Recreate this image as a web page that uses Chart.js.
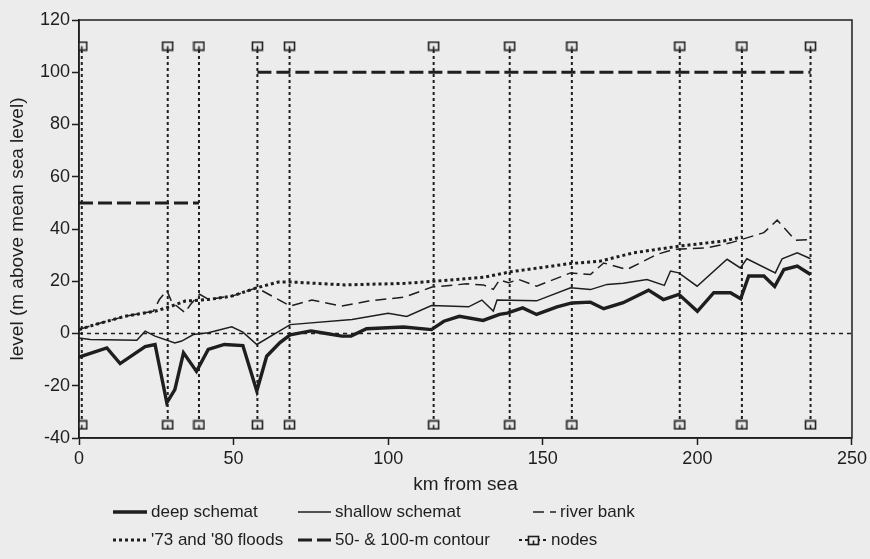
<!DOCTYPE html>
<html>
<head>
<meta charset="utf-8">
<title>River profile</title>
<style>
  html, body { margin: 0; padding: 0; background: #ececec; }
  #wrap { width: 870px; height: 559px; }
</style>
<script src="https://cdn.jsdelivr.net/npm/chart.js@4.4.1/dist/chart.umd.min.js"></script>
</head>
<body>
<div id="wrap"><canvas id="profile" width="870" height="559"></canvas></div>
<script>
// channel bed levels, km from sea vs m above mean sea level
const deepKm = [0, 9, 13.3, 21.4, 24.6, 28.4, 31, 33.8, 38, 41.8, 47, 53, 57.5, 60.7, 65, 68.3, 75, 80, 85, 88, 93, 105, 114, 118, 123, 130.7, 136, 138.5, 143.5, 148, 154.6, 159.4, 165.4, 169.7, 176, 184.2, 189, 194, 200, 205.3, 210.7, 214, 216.6, 221.5, 225, 228, 232.3, 236.6];
const deepM = [-9, -5.5, -11.5, -5, -4.2, -26.5, -21.5, -7.4, -14.5, -6.1, -4.2, -4.6, -22, -8.7, -3.5, -0.5, 1, 0, -1, -1, 1.8, 2.5, 1.5, 4.7, 6.6, 5, 7.3, 7.8, 9.8, 7.3, 10.2, 11.7, 12, 9.5, 11.8, 16.6, 13, 15, 8.5, 15.6, 15.6, 13.3, 22, 22, 18, 24.5, 25.8, 22.6];

const shallowKm = [0, 3.6, 18.7, 21.4, 24.6, 31, 33.2, 37, 41.8, 49.4, 53, 57.5, 68.3, 88.3, 100, 106, 114, 126, 130.3, 134, 135.2, 148, 159, 165.4, 170.8, 176, 183.7, 189.3, 191.3, 194, 199.9, 209.6, 213.9, 216, 225.2, 227.4, 232.3, 236.6];
const shallowM = [-1.7, -2.3, -2.6, 0.9, -1, -3.6, -2.9, -0.4, 0.3, 2.6, 0.5, -4.2, 3.4, 5.4, 7.7, 6.5, 10.7, 10.2, 12.8, 8.6, 12.8, 12.5, 17.5, 16.8, 18.8, 19.2, 20.7, 18.4, 23.9, 23.2, 18.1, 28.4, 25.1, 28.6, 23.2, 28.6, 30.9, 28.6];

const bankKm = [0, 5, 15, 24, 26, 28.4, 30, 34.3, 36, 39, 42, 50, 57.5, 68.3, 75.3, 85, 93.6, 105.5, 114.2, 125.4, 130.8, 134, 136, 138.9, 142.2, 148, 159, 165.4, 169.7, 177.2, 187, 192.3, 203, 210.7, 221.5, 225.8, 231.7, 236.6];
const bankM = [1.5, 3.4, 6.6, 8.5, 13, 16.5, 12, 8, 11, 15, 13, 14.5, 17.5, 10.5, 12.8, 10.5, 12.4, 14, 17.8, 19, 18.6, 16.9, 20.5, 19.4, 20.7, 18.1, 23.2, 22.6, 27, 24.5, 30.3, 32.2, 32.8, 34.7, 38.6, 43.4, 35.7, 36];

const floodKm = [0, 5.2, 14.9, 24.6, 30, 34.3, 41.8, 49.4, 57.5, 64.5, 68.8, 86, 105.5, 114.7, 130.8, 139.5, 159, 168.6, 179.4, 194.5, 208.5, 214.4];
const floodM = [1.5, 3.4, 6.6, 8.5, 10.5, 12.4, 13, 14.3, 17.5, 19.7, 19.7, 18.6, 19.2, 20, 21.5, 23.6, 26.8, 27.7, 30.9, 33.5, 35.4, 37];

// 50 m contour near the mouth, 100 m contour further upstream
const contourKm = [0, 38.8, 48, 57.7, 236.6];
const contourM = [50, 50, null, 100, 100];

const nodeKm = [0.9, 28.7, 38.8, 57.7, 68.1, 114.7, 139.3, 159.4, 194.3, 214.4, 236.6];
const nodeLevels = [-35, 110];

const seaKm = [0, 250];
const seaM = [0, 0];

const xTicks = [0, 50, 100, 150, 200, 250];
const yTicks = [-40, -20, 0, 20, 40, 60, 80, 100, 120];

const ink = '#1e1e1e';
const paper = '#ececec';

function pts(xs, ys) {
  return xs.map((x, i) => ({ x: x, y: ys[i] }));
}

// little boxed marker used for the model nodes
function nodeMarker() {
  const c = document.createElement('canvas');
  c.width = 13; c.height = 11;
  const g = c.getContext('2d');
  g.fillStyle = paper;
  g.fillRect(1, 1, 11, 9);
  g.strokeStyle = ink;
  g.lineWidth = 1.6;
  g.strokeRect(1.5, 1.5, 10, 8);
  g.beginPath();
  g.moveTo(6.5, 9.5);
  g.lineTo(6.5, 5.5);
  g.stroke();
  return c;
}
const marker = nodeMarker();

const nodeData = nodeKm.flatMap(k => [{ x: k, y: nodeLevels[0] }, { x: k, y: nodeLevels[1] }, { x: k, y: null }]);

function ticksFrom(list) {
  return scale => { scale.ticks = list.map(v => ({ value: v })); };
}

// box round the plot area plus the two-row key under the axis
const framePlugin = {
  id: 'frame',
  afterDraw(chart) {
    const ctx = chart.ctx;
    const a = chart.chartArea;
    ctx.save();
    ctx.strokeStyle = ink;
    ctx.lineWidth = 1.5;
    ctx.setLineDash([]);
    ctx.strokeRect(a.left, a.top, a.right - a.left, a.bottom - a.top);

    const key = [
      { ds: 0, x0: 113, x1: 147, tx: 151, y: 512 },
      { ds: 1, x0: 298, x1: 331, tx: 335, y: 512 },
      { ds: 2, x0: 533, x1: 556, tx: 560, y: 512 },
      { ds: 3, x0: 113, x1: 147, tx: 151, y: 540 },
      { ds: 4, x0: 298, x1: 331, tx: 335, y: 540 },
      { ds: 5, x0: 519, x1: 547, tx: 551, y: 540 }
    ];
    ctx.font = "17px 'Liberation Sans', Arial, sans-serif";
    ctx.textBaseline = 'middle';
    ctx.textAlign = 'left';
    key.forEach(k => {
      const d = chart.data.datasets[k.ds];
      ctx.strokeStyle = d.borderColor;
      ctx.lineWidth = d.borderWidth;
      ctx.setLineDash(d.borderDash || []);
      ctx.beginPath();
      ctx.moveTo(k.x0, k.y);
      ctx.lineTo(k.x1, k.y);
      ctx.stroke();
      if (d.pointStyle instanceof HTMLCanvasElement) {
        const m = d.pointStyle;
        ctx.drawImage(m, Math.round((k.x0 + k.x1) / 2 - m.width / 2), Math.round(k.y - m.height / 2));
      }
      ctx.fillStyle = ink;
      ctx.fillText(d.label, k.tx, k.y);
    });
    ctx.restore();
  }
};

Chart.defaults.font.family = "'Liberation Sans', Arial, sans-serif";
Chart.defaults.font.size = 18;
Chart.defaults.color = ink;

const lineBase = { borderColor: ink, pointRadius: 0, fill: false, tension: 0 };

new Chart(document.getElementById('profile'), {
  type: 'line',
  data: {
    datasets: [
      Object.assign({ label: 'deep schemat', data: pts(deepKm, deepM), borderWidth: 3.4 }, lineBase),
      Object.assign({ label: 'shallow schemat', data: pts(shallowKm, shallowM), borderWidth: 1.5 }, lineBase),
      Object.assign({ label: 'river bank', data: pts(bankKm, bankM), borderWidth: 1.5, borderDash: [11, 6] }, lineBase),
      Object.assign({ label: "'73 and '80 floods", data: pts(floodKm, floodM), borderWidth: 3, borderDash: [3, 3] }, lineBase),
      Object.assign({ label: '50- & 100-m contour', data: pts(contourKm, contourM), borderWidth: 3, borderDash: [14, 5] }, lineBase),
      {
        label: 'nodes',
        data: nodeData,
        borderColor: ink,
        borderWidth: 2,
        borderDash: [3, 3],
        pointStyle: marker,
        pointRadius: 6,
        fill: false
      },
      Object.assign({ label: 'sea level', data: pts(seaKm, seaM), borderWidth: 1.5, borderDash: [4, 4] }, lineBase)
    ]
  },
  options: {
    responsive: false,
    animation: false,
    devicePixelRatio: 1,
    layout: { padding: { left: 0, top: 20, right: 18, bottom: 63 } },
    plugins: {
      legend: { display: false },
      tooltip: { enabled: false }
    },
    scales: {
      x: {
        type: 'linear',
        min: xTicks[0],
        max: xTicks[xTicks.length - 1],
        afterBuildTicks: ticksFrom(xTicks),
        afterFit: s => { s.height = 58; },
        ticks: { padding: 3, maxRotation: 0 },
        grid: { drawOnChartArea: false, tickLength: 7, tickColor: ink, tickWidth: 1.5 },
        border: { color: ink, width: 1.5 },
        title: { display: true, text: 'km from sea', font: { size: 19 }, padding: 0 }
      },
      y: {
        type: 'linear',
        min: yTicks[0],
        max: yTicks[yTicks.length - 1],
        afterBuildTicks: ticksFrom(yTicks),
        afterFit: s => { s.width = 79; },
        ticks: { padding: 2 },
        grid: { drawOnChartArea: false, tickLength: 7, tickColor: ink, tickWidth: 1.5 },
        border: { color: ink, width: 1.5 },
        title: { display: true, text: 'level (m above mean sea level)', font: { size: 19 }, padding: { top: 6, bottom: 0 } }
      }
    }
  },
  plugins: [framePlugin]
});
</script>
</body>
</html>
